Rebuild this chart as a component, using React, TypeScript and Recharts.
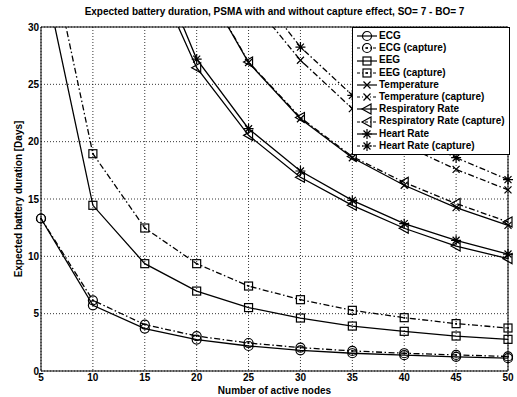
import React from 'react'
import { LineChart, Line, XAxis, YAxis, CartesianGrid, Legend, ReferenceArea } from 'recharts'

// number of active nodes
const nodes = [5, 10, 15, 20, 25, 30, 35, 40, 45, 50]

// expected battery duration [days] (values above 30 run off the top)
const ecg = [13.3, 5.73, 3.7, 2.74, 2.18, 1.8, 1.55, 1.38, 1.24, 1.12]
const ecgCapture = [13.3, 6.16, 4.05, 3.05, 2.44, 2.04, 1.75, 1.55, 1.4, 1.27]
const eeg = [35.7, 14.45, 9.36, 6.97, 5.53, 4.62, 3.92, 3.46, 3.05, 2.76]
const eegCapture = [40.3, 18.95, 12.47, 9.36, 7.41, 6.22, 5.29, 4.65, 4.13, 3.75]
const temperature = [168, 73, 47, 34.8, 26.9, 22.0, 18.6, 16.2, 14.25, 12.7]
const temperatureCapture = [205, 88, 57, 42, 32.6, 27.1, 22.88, 19.7, 17.58, 15.8]
const respiratory = [130, 56, 36.5, 26.45, 20.55, 16.9, 14.45, 12.45, 10.9, 9.8]
const respiratoryCapture = [170, 74, 47.2, 34.9, 26.95, 22.1, 18.7, 16.45, 14.6, 13.0]
const heartRate = [136, 59, 38.1, 27.2, 21.13, 17.44, 14.88, 12.85, 11.4, 10.2]
const heartRateCapture = [215, 93, 60, 44, 34.1, 28.25, 24.04, 20.8, 18.6, 16.69]

const xTicks = [5, 10, 15, 20, 25, 30, 35, 40, 45, 50]
const yTicks = [0, 5, 10, 15, 20, 25, 30]

type MarkerKind = 'circle' | 'circleDot' | 'square' | 'squareDot' | 'cross' | 'triangle' | 'star'

interface Series {
  key: string
  name: string
  values: number[]
  marker: MarkerKind
  dashed: boolean
}

const series: Series[] = [
  { key: 'ecg', name: 'ECG', values: ecg, marker: 'circle', dashed: false },
  { key: 'ecgCap', name: 'ECG (capture)', values: ecgCapture, marker: 'circleDot', dashed: true },
  { key: 'eeg', name: 'EEG', values: eeg, marker: 'square', dashed: false },
  { key: 'eegCap', name: 'EEG (capture)', values: eegCapture, marker: 'squareDot', dashed: true },
  { key: 'temp', name: 'Temperature', values: temperature, marker: 'cross', dashed: false },
  { key: 'tempCap', name: 'Temperature (capture)', values: temperatureCapture, marker: 'cross', dashed: true },
  { key: 'resp', name: 'Respiratory Rate', values: respiratory, marker: 'triangle', dashed: false },
  { key: 'respCap', name: 'Respiratory Rate (capture)', values: respiratoryCapture, marker: 'triangle', dashed: true },
  { key: 'hr', name: 'Heart Rate', values: heartRate, marker: 'star', dashed: false },
  { key: 'hrCap', name: 'Heart Rate (capture)', values: heartRateCapture, marker: 'star', dashed: true },
]

const data = nodes.map((n, i) => {
  const row: Record<string, number> = { nodes: n }
  series.forEach(s => { row[s.key] = s.values[i] })
  return row
})

const FONT = '"Liberation Sans", Arial, sans-serif'
const DASH = '6 2.5 1.5 2.5'

function Marker({ kind, cx, cy }: { kind: MarkerKind; cx: number; cy: number }) {
  const st = { fill: 'none', stroke: '#000', strokeWidth: 1.2 }
  switch (kind) {
    case 'circle':
      return <circle cx={cx} cy={cy} r={4.5} {...st} />
    case 'circleDot':
      return (
        <g>
          <circle cx={cx} cy={cy} r={4.5} {...st} />
          <circle cx={cx} cy={cy} r={1} fill="#000" />
        </g>
      )
    case 'square':
      return <rect x={cx - 4} y={cy - 4} width={8} height={8} {...st} />
    case 'squareDot':
      return (
        <g>
          <rect x={cx - 4} y={cy - 4} width={8} height={8} {...st} />
          <circle cx={cx} cy={cy} r={1} fill="#000" />
        </g>
      )
    case 'cross':
      return <path d={`M${cx - 3.5},${cy - 3.5}L${cx + 3.5},${cy + 3.5}M${cx - 3.5},${cy + 3.5}L${cx + 3.5},${cy - 3.5}`} {...st} />
    case 'triangle':
      return <path d={`M${cx - 5},${cy}L${cx + 4},${cy - 5}L${cx + 4},${cy + 5}Z`} {...st} />
    case 'star':
      return (
        <path
          d={`M${cx - 5},${cy}L${cx + 5},${cy}M${cx},${cy - 5}L${cx},${cy + 5}M${cx - 3.5},${cy - 3.5}L${cx + 3.5},${cy + 3.5}M${cx - 3.5},${cy + 3.5}L${cx + 3.5},${cy - 3.5}`}
          {...st}
        />
      )
  }
  return null
}

function LegendBox() {
  return (
    <div
      style={{
        border: '1px solid #000',
        background: '#fff',
        padding: '2px 4px 2px 3px',
        fontFamily: FONT,
        fontWeight: 'bold',
        fontSize: 10,
        lineHeight: '12.2px',
        color: '#000',
      }}
    >
      {series.map(s => (
        <div key={s.key} style={{ display: 'flex', alignItems: 'center', whiteSpace: 'nowrap' }}>
          <svg width={22} height={12} style={{ flex: 'none' }}>
            <line x1={1} y1={6} x2={21} y2={6} stroke="#000" strokeWidth={1.2} strokeDasharray={s.dashed ? '3 2 1 2' : undefined} />
            <Marker kind={s.marker} cx={11} cy={6} />
          </svg>
          <span style={{ marginLeft: 1 }}>{s.name}</span>
        </div>
      ))}
    </div>
  )
}

export default function App() {
  return (
    <div style={{ position: 'absolute', left: 0, top: 0, width: 517, height: 397, background: '#fff' }}>
      <div
        style={{
          position: 'absolute',
          left: 41,
          top: 6,
          width: 467,
          textAlign: 'center',
          fontFamily: FONT,
          fontWeight: 'bold',
          fontSize: 10,
          lineHeight: '12px',
          color: '#000',
        }}
      >
        Expected battery duration, PSMA with and without capture effect, SO= 7 - BO= 7
      </div>
      <LineChart width={517} height={397} data={data} margin={{ top: 27, right: 9, bottom: 0, left: 0 }}>
        <CartesianGrid stroke="#000" strokeDasharray="1 2" strokeWidth={0.8} />
        <XAxis
          dataKey="nodes"
          type="number"
          domain={[5, 50]}
          ticks={xTicks}
          height={26}
          axisLine={false}
          tickLine={false}
          tickSize={2}
          tickMargin={1}
          tick={{ fontFamily: FONT, fontWeight: 'bold', fontSize: 10, fill: '#000' }}
          label={{ value: 'Number of active nodes', position: 'insideBottom', offset: 3, style: { fontFamily: FONT, fontWeight: 'bold', fontSize: 10, fill: '#000' } }}
        />
        <YAxis
          type="number"
          domain={[0, 30]}
          ticks={yTicks}
          allowDataOverflow
          width={41}
          axisLine={false}
          tickLine={false}
          tickSize={1}
          tickMargin={1}
          tick={{ fontFamily: FONT, fontWeight: 'bold', fontSize: 10, fill: '#000' }}
          label={{ value: 'Expected battery duration [Days]', angle: -90, position: 'insideLeft', offset: 18, style: { textAnchor: 'middle', fontFamily: FONT, fontWeight: 'bold', fontSize: 10, fill: '#000' } }}
        />
        <ReferenceArea x1={5} x2={50} y1={0} y2={30} fill="none" stroke="#000" strokeWidth={1} />
        {series.map(s => (
          <Line
            key={s.key}
            dataKey={s.key}
            name={s.name}
            type="linear"
            stroke="#000"
            strokeWidth={1.3}
            strokeDasharray={s.dashed ? DASH : undefined}
            isAnimationActive={false}
            dot={(p: any) => <Marker key={`${s.key}-${p.index}`} kind={s.marker} cx={p.cx} cy={p.cy} />}
            activeDot={false}
            legendType="line"
          />
        ))}
        <Legend
          layout="vertical"
          align="center"
          verticalAlign="middle"
          content={() => <LegendBox />}
          wrapperStyle={{ left: 352, top: 27, width: 'auto', height: 'auto' }}
        />
      </LineChart>
    </div>
  )
}
